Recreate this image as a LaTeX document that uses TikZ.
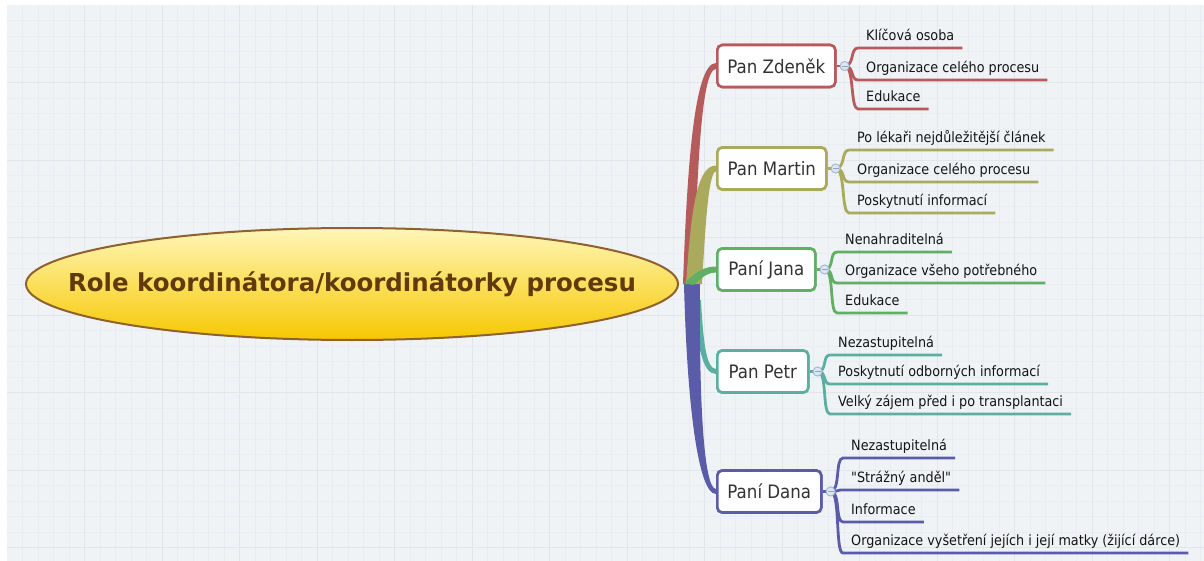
\documentclass[tikz,border=0pt]{standalone}
\usepackage{fontspec}
\setmainfont{DejaVu Sans}[FakeStretch=0.9, Ligatures=TeXOff]
\newfontfamily\titlefont{DejaVu Sans}[FakeStretch=0.99]
\usetikzlibrary{shapes.geometric,calc}

\definecolor{paper}{HTML}{F0F3F6}
\definecolor{gridminor}{HTML}{E9EDF1}
\definecolor{gridmajor}{HTML}{E1E6EB}
\definecolor{cZ}{HTML}{B65B5B}
\definecolor{cM}{HTML}{AAAA5C}
\definecolor{cJ}{HTML}{60AF64}
\definecolor{cP}{HTML}{5BAFA0}
\definecolor{cD}{HTML}{5A5CA8}
\definecolor{coreTop}{HTML}{FFF6B8}
\definecolor{coreMid}{HTML}{FDE04E}
\definecolor{coreBot}{HTML}{F6C800}
\definecolor{coreRim}{HTML}{8E612E}
\definecolor{coreText}{HTML}{603A0C}
\definecolor{dotFill}{HTML}{DCE6F3}
\definecolor{dotRim}{HTML}{A3B6D4}

\tikzset{
  person/.style={draw=#1, line width=2.6pt, rounded corners=5pt, fill=white,
    minimum height=42pt, inner xsep=0pt, anchor=west, text=black!80,
    font=\fontsize{18.5}{20}\selectfont},
  kid/.style={anchor=south west, inner xsep=8pt, inner ysep=0pt, text depth=7.5pt,
    text=black!92, font=\fontsize{14.2}{16}\selectfont},
  kidline/.style={draw=#1, line width=2.8pt},
  dot/.style={circle, draw=dotRim, fill=dotFill, line width=0.8pt,
    minimum size=9pt, inner sep=0pt},
  minus/.style={draw=dotRim!90!black, line width=0.7pt}
}

\begin{document}
\begin{tikzpicture}[x=1pt, y=-1pt]
\useasboundingbox (0,0) rectangle (1204,561);
\fill[white] (0,0) rectangle (1204,561);

% canvas with a faint grid
\fill[paper] (7,5) rectangle (1204,561);
\foreach \gx in {22.5,38,...,1204} \draw[gridminor, line width=0.6pt] (\gx,5) -- (\gx,561);
\foreach \gy in {20.5,36,...,561} \draw[gridminor, line width=0.6pt] (7,\gy) -- (1204,\gy);
\foreach \gx in {84.5,162,...,1204} \draw[gridmajor, line width=0.9pt] (\gx,5) -- (\gx,561);
\foreach \gy in {82.5,160,...,561} \draw[gridmajor, line width=0.9pt] (7,\gy) -- (1204,\gy);

% people
\node[person=cZ, minimum width=118pt] (zd) at (716,66)    {Pan Zdeněk};
\node[person=cM, minimum width=109pt] (ma) at (716,168.5) {Pan Martin};
\node[person=cJ, minimum width=98pt]  (ja) at (716,269.5) {Paní Jana};
\node[person=cP, minimum width=91pt]  (pe) at (716,371.5) {Pan Petr};
\node[person=cD, minimum width=104pt] (da) at (716,491.5) {Paní Dana};

\coordinate (root) at (691,284);

% tapered main branches
\fill[cP] ($(root)+(3,16)$) .. controls ($(root)+(6,60)$) and ($(pe.west)+(-14,2.5)$) .. ($(pe.west)+(0,2.5)$)
  -- ($(pe.west)+(0,-2.5)$) .. controls ($(pe.west)+(-10,-2.5)$) and ($(root)+(12,55)$) .. ($(root)+(10,16)$) -- cycle;
\fill[cD] ($(root)+(-7,0)$) .. controls ($(root)+(-4,120)$) and ($(da.west)+(-18,2.5)$) .. ($(da.west)+(0,2.5)$)
  -- ($(da.west)+(0,-2.5)$) .. controls ($(da.west)+(-12,-2.5)$) and ($(root)+(8,120)$) .. ($(root)+(9,0)$) -- cycle;
\fill[cZ] ($(root)+(-8,0)$) .. controls ($(root)+(-4,-115)$) and ($(zd.west)+(-22,-3)$) .. ($(zd.west)+(0,-3)$)
  -- ($(zd.west)+(0,3)$) .. controls ($(zd.west)+(-15,3)$) and ($(root)+(6,-110)$) .. ($(root)+(3,0)$) -- cycle;
\fill[cM] ($(root)+(-5,0)$) .. controls ($(root)+(0,-70)$) and ($(ma.west)+(-20,-3)$) .. ($(ma.west)+(0,-3)$)
  -- ($(ma.west)+(0,3)$) .. controls ($(ma.west)+(-8,3)$) and ($(root)+(14,-50)$) .. ($(root)+(11,0)$) -- cycle;
\fill[cJ] ($(root)+(-7,-1)$) .. controls ($(root)+(4,-10)$) and ($(ja.west)+(-14,-3)$) .. ($(ja.west)+(0,-3)$)
  -- ($(ja.west)+(0,3)$) .. controls ($(ja.west)+(-12,3)$) and ($(root)+(8,-2)$) .. ($(root)+(2,1)$) -- cycle;

% central topic
\shade[top color=coreTop, middle color=coreMid, bottom color=coreBot, draw=coreRim, line width=2pt]
  (352,284) ellipse [x radius=326, y radius=56];
\node[inner sep=0pt] (core) at (352,284)
  {\titlefont\bfseries\fontsize{24.7}{26}\selectfont\color{coreText}\raisebox{-2pt}{Role koordinátora/koordinátorky procesu}};

% redraw the boxes over the branch tips
\node[person=cZ, minimum width=118pt] at (716,66)    {Pan Zdeněk};
\node[person=cM, minimum width=109pt] at (716,168.5) {Pan Martin};
\node[person=cJ, minimum width=98pt]  at (716,269.5) {Paní Jana};
\node[person=cP, minimum width=91pt]  at (716,371.5) {Pan Petr};
\node[person=cD, minimum width=104pt] at (716,491.5) {Paní Dana};

% collapse markers
\node[dot] (zc) at ([xshift=8pt]zd.east) {};
\node[dot] (mc) at ([xshift=8pt]ma.east) {};
\node[dot] (jc) at ([xshift=8pt]ja.east) {};
\node[dot] (pc) at ([xshift=8pt]pe.east) {};
\node[dot] (dc) at ([xshift=8pt]da.east) {};

% sub-topics
\node[kid] (z1) at (858,48)  {Klíčová osoba};
\node[kid] (z2) at (858,80)  {Organizace celého procesu};
\node[kid] (z3) at (858,109) {Edukace};

\node[kid] (m1) at (849,150) {Po lékaři nejdůležitější článek};
\node[kid] (m2) at (849,182) {Organizace celého procesu};
\node[kid] (m3) at (849,213) {Poskytnutí informací};

\node[kid] (j1) at (837,252) {Nenahraditelná};
\node[kid] (j2) at (837,283) {Organizace všeho potřebného};
\node[kid] (j3) at (837,313) {Edukace};

\node[kid] (p1) at (830,355) {Nezastupitelná};
\node[kid] (p2) at (830,384) {Poskytnutí odborných informací};
\node[kid] (p3) at (830,414) {Velký zájem před i po transplantaci};

\node[kid] (d1) at (843,458) {Nezastupitelná};
\node[kid] (d2) at (843,490) {"Strážný anděl"};
\node[kid] (d3) at (843,522) {Informace};
\node[kid] (d4) at (843,553) {Organizace vyšetření jejích i její matky (žijící dárce)};

% forks and underlines
\foreach \p/\c/\col/\ks in {zd/zc/cZ/{z1,z2,z3}, ma/mc/cM/{m1,m2,m3}, ja/jc/cJ/{j1,j2,j3},
                           pe/pc/cP/{p1,p2,p3}, da/dc/cD/{d1,d2,d3,d4}} {
  \draw[kidline=\col] (\p.east) -- (\c.center);
  \foreach \k in \ks
    \draw[kidline=\col] (\c.center) .. controls +(10,0) and +(-8,0) .. (\k.south west) -- (\k.south east);
}

% markers on top
\foreach \c in {zc,mc,jc,pc,dc} {
  \node[dot] at (\c) {};
  \draw[minus] ([xshift=2pt]\c.west) -- ([xshift=-2pt]\c.east);
}
\end{tikzpicture}
\end{document}
